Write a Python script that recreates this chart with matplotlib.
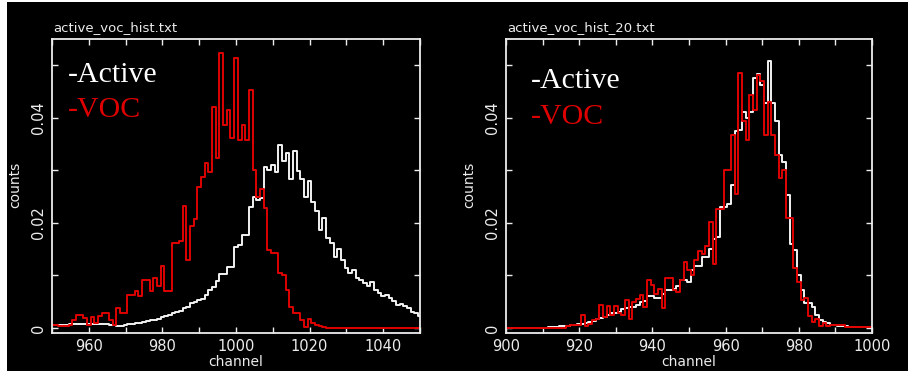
import numpy as np
import matplotlib
matplotlib.use('Agg')
import matplotlib.pyplot as plt
from matplotlib.patches import Rectangle
from matplotlib.ticker import MultipleLocator

# canales (centro de cada bin)
ch_left = np.arange(950, 1051)
ch_right = np.arange(900, 1001)

# histograma izquierdo: active_voc_hist.txt
active_left = [
    0.0005, 0.0005, 0.0005, 0.0006, 0.0006, 0.0007, 0.0008, 0.0008, 0.0008, 0.0008,  # 950-959
    0.0008, 0.0008, 0.0008, 0.0007, 0.0007, 0.0007, 0.0006, 0.0005, 0.0004, 0.0004,  # 960-969
    0.0006, 0.0007, 0.0008, 0.0009, 0.0010, 0.0012, 0.0013, 0.0015, 0.0016, 0.0018,  # 970-979
    0.0021, 0.0023, 0.0025, 0.0028, 0.0030, 0.0033, 0.0038, 0.0040, 0.0047, 0.0050,  # 980-989
    0.0053, 0.0056, 0.0063, 0.0072, 0.0078, 0.0090, 0.0103, 0.0103, 0.0116, 0.0116,  # 990-999
    0.0154, 0.0158, 0.0177, 0.0177, 0.0230, 0.0249, 0.0244, 0.0247, 0.0307, 0.0300,  # 1000-1009
    0.0311, 0.0296, 0.0349, 0.0317, 0.0333, 0.0283, 0.0337, 0.0298, 0.0283, 0.0250,  # 1010-1019
    0.0279, 0.0240, 0.0222, 0.0187, 0.0209, 0.0171, 0.0161, 0.0136, 0.0150, 0.0130,  # 1020-1029
    0.0114, 0.0104, 0.0110, 0.0095, 0.0091, 0.0085, 0.0079, 0.0088, 0.0072, 0.0066,  # 1030-1039
    0.0060, 0.0063, 0.0057, 0.0052, 0.0044, 0.0046, 0.0041, 0.0038, 0.0031, 0.0029,  # 1040-1049
    0.0022]                                                                          # 1050
voc_left = [
    0.0005, 0.0005, 0.0004, 0.0004, 0.0003, 0.0006, 0.0015, 0.0024, 0.0024, 0.0019,
    0.0005, 0.0020, 0.0010, 0.0022, 0.0029, 0.0029, 0.0015, 0.0005, 0.0039, 0.0028,
    0.0028, 0.0062, 0.0062, 0.0071, 0.0060, 0.0092, 0.0092, 0.0071, 0.0095, 0.0079,
    0.0118, 0.0071, 0.0071, 0.0162, 0.0162, 0.0165, 0.0232, 0.0129, 0.0194, 0.0208,
    0.0269, 0.0288, 0.0314, 0.0297, 0.0421, 0.0324, 0.0523, 0.0387, 0.0415, 0.0362,
    0.0514, 0.0358, 0.0387, 0.0358, 0.0452, 0.0301, 0.0250, 0.0265, 0.0228, 0.0149,
    0.0142, 0.0142, 0.0104, 0.0100, 0.0072, 0.0040, 0.0029, 0.0028, 0.0015, 0.0002,
    0.0018, 0.0009, 0.0005, 0.0003, 0.0001, 0.0, 0.0, 0.0, 0.0, 0.0,
    0.0, 0.0, 0.0, 0.0, 0.0, 0.0, 0.0, 0.0, 0.0, 0.0,
    0.0, 0.0, 0.0, 0.0, 0.0, 0.0, 0.0, 0.0, 0.0, 0.0,
    0.0]

# histograma derecho: active_voc_hist_20.txt
active_right = [
    0.0, 0.0, 0.0, 0.0, 0.0, 0.0, 0.0, 0.0, 0.0, 0.0,                                # 900-909
    0.0, 0.0, 0.0002, 0.0002, 0.0002, 0.0003, 0.0003, 0.0004, 0.0005, 0.0006,        # 910-919
    0.0007, 0.0008, 0.0010, 0.0012, 0.0014, 0.0017, 0.0019, 0.0021, 0.0025, 0.0028,  # 920-929
    0.0029, 0.0031, 0.0037, 0.0039, 0.0040, 0.0040, 0.0043, 0.0050, 0.0052, 0.0060,  # 930-939
    0.0060, 0.0057, 0.0057, 0.0065, 0.0072, 0.0072, 0.0074, 0.0080, 0.0091, 0.0091,  # 940-949
    0.0088, 0.0110, 0.0118, 0.0118, 0.0135, 0.0135, 0.0150, 0.0170, 0.0173, 0.0231,  # 950-959
    0.0231, 0.0236, 0.0272, 0.0374, 0.0377, 0.0412, 0.0400, 0.0412, 0.0476, 0.0484,  # 960-969
    0.0463, 0.0428, 0.0509, 0.0428, 0.0393, 0.0330, 0.0316, 0.0253, 0.0160, 0.0149,  # 970-979
    0.0101, 0.0072, 0.0048, 0.0048, 0.0040, 0.0025, 0.0015, 0.0012, 0.0009, 0.0006,  # 980-989
    0.0005, 0.0004, 0.0004, 0.0003, 0.0002, 0.0002, 0.0001, 0.0001, 0.0001, 0.0001,  # 990-999
    0.0001]                                                                          # 1000
voc_right = [
    0.0, 0.0, 0.0, 0.0, 0.0, 0.0, 0.0, 0.0, 0.0, 0.0,
    0.0, 0.0, 0.0, 0.0, 0.0, 0.0, 0.0, 0.0004, 0.0005, 0.0005,
    0.0006, 0.0024, 0.0004, 0.0008, 0.0015, 0.0018, 0.0043, 0.0020, 0.0042, 0.0025,
    0.0042, 0.0029, 0.0024, 0.0053, 0.0018, 0.0050, 0.0055, 0.0063, 0.0040, 0.0091,
    0.0082, 0.0065, 0.0075, 0.0039, 0.0095, 0.0095, 0.0072, 0.0069, 0.0091, 0.0126,
    0.0110, 0.0100, 0.0130, 0.0147, 0.0140, 0.0157, 0.0202, 0.0122, 0.0226, 0.0226,
    0.0300, 0.0300, 0.0368, 0.0255, 0.0485, 0.0393, 0.0358, 0.0444, 0.0415, 0.0482,
    0.0470, 0.0368, 0.0431, 0.0368, 0.0330, 0.0285, 0.0301, 0.0209, 0.0209, 0.0114,
    0.0088, 0.0053, 0.0058, 0.0023, 0.0012, 0.0018, 0.0003, 0.0010, 0.0004, 0.0006,
    0.0005, 0.0005, 0.0005, 0.0002, 0.0002, 0.0002, 0.0002, 0.0002, 0.0002, 0.0002,
    0.0002]

titulos = ["active_voc_hist.txt", "active_voc_hist_20.txt"]

fg = '#ececec'
rojo = '#e00000'

fig = plt.figure(figsize=(9.08, 3.71), dpi=100)
fig.patch.set_facecolor('white')
fig.add_artist(Rectangle((7/908, 0), 1 - 7/908, 1 - 2/371, transform=fig.transFigure,
                         facecolor='black', edgecolor='none', zorder=-5))

ax1 = fig.add_axes([52/908, 38/371, 368/908, 294/371])
ax2 = fig.add_axes([506/908, 38/371, 366/908, 294/371])

paneles = [
    (ax1, ch_left, active_left, voc_left, (950, 1050), titulos[0], (0.043, 0.854, 0.735)),
    (ax2, ch_right, active_right, voc_right, (900, 1000), titulos[1], (0.068, 0.833, 0.711)),
]

for ax, ch, act, voc, xl, tit, pos in paneles:
    ax.set_facecolor('black')
    ax.step(ch, act, where='mid', color='#f2f2f2', lw=1.4)
    ax.step(ch, voc, where='mid', color=rojo, lw=1.4)
    ax.set_xlim(*xl)
    ax.set_ylim(-0.00095, 0.055)
    ax.xaxis.set_major_locator(MultipleLocator(20))
    ax.xaxis.set_minor_locator(MultipleLocator(10))
    ax.yaxis.set_major_locator(MultipleLocator(0.02))
    ax.yaxis.set_minor_locator(MultipleLocator(0.01))
    ax.set_yticks([0, 0.02, 0.04])
    ax.set_yticklabels(['0', '0.02', '0.04'], rotation=90, va='center')
    for s in ax.spines.values():
        s.set_color(fg)
        s.set_linewidth(1.3)
    ax.tick_params(which='both', direction='in', top=True, right=True, color=fg,
                   length=4.3, width=1.0, labelcolor=fg, labelsize=10.5, pad=4.5)
    ax.text(0.003, 1.04, tit, transform=ax.transAxes, ha='left', va='center',
            color=fg, fontsize=9.5)
    ax.text(0.5, -0.099, 'channel', transform=ax.transAxes, ha='center', va='center',
            color=fg, fontsize=10)
    ax.text(-0.1, 0.503, 'counts', transform=ax.transAxes, ha='center', va='center',
            rotation=90, color=fg, fontsize=10)
    ax.text(pos[0], pos[1], '-Active', transform=ax.transAxes, ha='left', va='baseline',
            color='white', fontsize=21.5, family='Liberation Serif')
    ax.text(pos[0], pos[2], '-VOC', transform=ax.transAxes, ha='left', va='baseline',
            color=rojo, fontsize=21.5, family='Liberation Serif')

fig.savefig('out.png', dpi=100, facecolor=fig.get_facecolor())
